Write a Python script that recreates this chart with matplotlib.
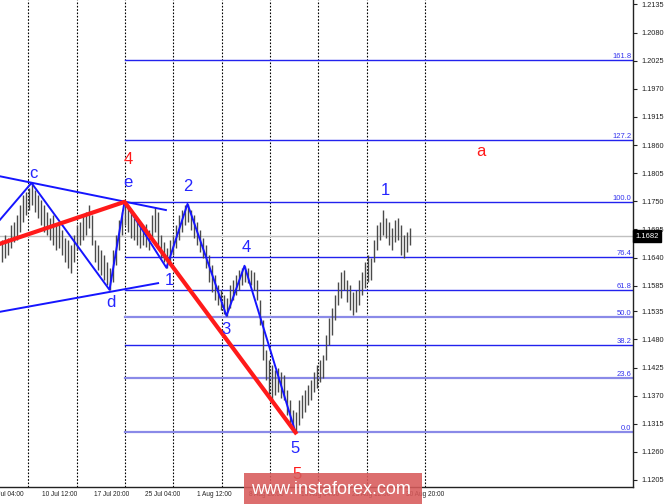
import matplotlib.pyplot as plt
import matplotlib.transforms as mtransforms
from matplotlib.patches import Rectangle

# EUR/USD bars (bar index -> high / low)
highs = [1.1674, 1.1684, 1.1678, 1.1704, 1.1710, 1.1723, 1.1743, 1.1762, 1.1768, 1.1776,
         1.1786, 1.1772, 1.1762, 1.1753, 1.1743, 1.1729, 1.1717, 1.1723, 1.1704, 1.1710,
         1.1694, 1.1678, 1.1674, 1.1665, 1.1684, 1.1704, 1.1710, 1.1723, 1.1729, 1.1743,
         1.1723, 1.1674, 1.1665, 1.1655, 1.1645, 1.1631, 1.1620, 1.1655, 1.1684, 1.1714,
         1.1729, 1.1749, 1.1737, 1.1729, 1.1717, 1.1710, 1.1704, 1.1698, 1.1706, 1.1694,
         1.1723, 1.1739, 1.1729, 1.1684, 1.1671, 1.1659, 1.1674, 1.1684, 1.1704, 1.1723,
         1.1733, 1.1743, 1.1745, 1.1733, 1.1723, 1.1710, 1.1694, 1.1678, 1.1665, 1.1645,
         1.1626, 1.1606, 1.1586, 1.1577, 1.1567, 1.1561, 1.1586, 1.1596, 1.1606, 1.1616,
         1.1620, 1.1624, 1.1620, 1.1616, 1.1612, 1.1596, 1.1557, 1.1518, 1.1459, 1.1440,
         1.1430, 1.1420, 1.1424, 1.1416, 1.1410, 1.1381, 1.1362, 1.1342, 1.1338, 1.1362,
         1.1371, 1.1381, 1.1391, 1.1401, 1.1416, 1.1430, 1.1440, 1.1450, 1.1489, 1.1522,
         1.1541, 1.1567, 1.1592, 1.1612, 1.1616, 1.1596, 1.1586, 1.1573, 1.1577, 1.1596,
         1.1612, 1.1631, 1.1645, 1.1639, 1.1674, 1.1704, 1.1710, 1.1733, 1.1717, 1.1710,
         1.1698, 1.1714, 1.1717, 1.1704, 1.1684, 1.1690, 1.1698]
lows = [1.1631, 1.1639, 1.1645, 1.1659, 1.1671, 1.1674, 1.1690, 1.1710, 1.1723, 1.1733,
        1.1743, 1.1729, 1.1717, 1.1704, 1.1690, 1.1684, 1.1674, 1.1665, 1.1655, 1.1659,
        1.1645, 1.1631, 1.1620, 1.1610, 1.1631, 1.1655, 1.1665, 1.1674, 1.1684, 1.1698,
        1.1665, 1.1631, 1.1616, 1.1606, 1.1596, 1.1586, 1.1577, 1.1592, 1.1626, 1.1655,
        1.1684, 1.1704, 1.1690, 1.1678, 1.1674, 1.1665, 1.1659, 1.1665, 1.1661, 1.1655,
        1.1674, 1.1690, 1.1665, 1.1639, 1.1631, 1.1620, 1.1631, 1.1645, 1.1659, 1.1674,
        1.1690, 1.1704, 1.1710, 1.1694, 1.1678, 1.1665, 1.1651, 1.1639, 1.1620, 1.1592,
        1.1573, 1.1557, 1.1547, 1.1538, 1.1530, 1.1526, 1.1541, 1.1557, 1.1567, 1.1577,
        1.1586, 1.1592, 1.1590, 1.1586, 1.1577, 1.1557, 1.1508, 1.1440, 1.1401, 1.1371,
        1.1362, 1.1371, 1.1377, 1.1365, 1.1362, 1.1332, 1.1313, 1.1299, 1.1298, 1.1313,
        1.1326, 1.1338, 1.1352, 1.1362, 1.1377, 1.1385, 1.1397, 1.1404, 1.1440, 1.1469,
        1.1489, 1.1518, 1.1547, 1.1561, 1.1577, 1.1553, 1.1538, 1.1528, 1.1534, 1.1547,
        1.1567, 1.1581, 1.1592, 1.1596, 1.1631, 1.1655, 1.1674, 1.1684, 1.1678, 1.1665,
        1.1655, 1.1671, 1.1674, 1.1645, 1.1639, 1.1651, 1.1665]
last_price = 1.1682

# fibo grid
fib_low, fib_high = 1.1298, 1.1748
fib_levels = [0.0, 23.6, 38.2, 50.0, 61.8, 76.4, 100.0, 127.2, 161.8]
fib_start = 41

price_ticks = [1.2135, 1.2080, 1.2025, 1.1970, 1.1915, 1.1860, 1.1805, 1.1750, 1.1695,
               1.1640, 1.1585, 1.1535, 1.1480, 1.1425, 1.1370, 1.1315, 1.1260, 1.1205]
date_labels = ['3 Jul 04:00', '10 Jul 12:00', '17 Jul 20:00', '25 Jul 04:00', '1 Aug 12:00',
               '8 Aug 20:00', '16 Aug 04:00', '23 Aug 12:00', '30 Aug 20:00']
date_pos = [-3.2, 13.5, 30.8, 47.8, 65.2, 82.5, 99.8, 116.8, 134.8]
grid_pos = [8.8, 25.2, 41.2, 57.2, 73.5, 89.5, 105.5, 121.8, 141.2]

# wave markup
tri_top_x, tri_top_y = [-0.5, 54.8], [1.1799, 1.1733]
tri_bot_x, tri_bot_y = [-0.5, 52.2], [1.1534, 1.1590]
abcde_x, abcde_y = [-0.5, 10, 36, 41], [1.1714, 1.1786, 1.1577, 1.1749]
red_x, red_y = [-0.5, 41, 98], [1.1667, 1.1749, 1.1298]
imp_x = [41, 55, 62, 75, 81, 98]
imp_y = [1.1749, 1.1620, 1.1745, 1.1526, 1.1624, 1.1298]
wave_labels = [('c', 10.5, 1.1804, 'blue'), ('e', 42.2, 1.1786, 'blue'), ('4', 42.2, 1.1831, 'red'),
               ('d', 36.5, 1.1553, 'blue'), ('1', 55.8, 1.1596, 'blue'), ('2', 62.2, 1.1780, 'blue'),
               ('3', 74.8, 1.1499, 'blue'), ('4', 81.5, 1.1659, 'blue'), ('5', 97.8, 1.1266, 'blue'),
               ('5', 98.5, 1.1215, 'red'), ('1', 127.8, 1.1772, 'blue'), ('a', 159.8, 1.1847, 'red')]

W, H = 665, 504
fig = plt.figure(figsize=(W / 100, H / 100), dpi=100)
ax = fig.add_axes([0, 17 / H, 633 / W, 487 / H])

for g in grid_pos:
    ax.axvline(g, color='black', lw=0.8, ls=(0, (1.5, 1.5)), zorder=1)

ax.axhline(last_price, color='#c0c0c0', lw=1, zorder=1)

xy_trans = mtransforms.blended_transform_factory(ax.transAxes, ax.transData)
rng = fib_high - fib_low
light = {0.0, 23.6, 50.0}
for lv in fib_levels:
    p = fib_low + rng * lv / 100
    if lv in light:
        ax.plot([fib_start, 210.5], [p, p], color='#8a8ae8', lw=1.6, zorder=2)
    else:
        ax.plot([fib_start, 210.5], [p, p], color='#2222ee', lw=1, zorder=2)
    ax.text(0.997, p, f'{lv:.1f}', transform=xy_trans,
            ha='right', va='bottom', fontsize=5.5, color='#3333ee', family='Liberation Sans')

ax.vlines(range(len(highs)), lows, highs, color='#4a4a4a', lw=1, zorder=3)

ax.plot(tri_top_x, tri_top_y, color='#1515ff', lw=1.4, zorder=4)
ax.plot(tri_bot_x, tri_bot_y, color='#1515ff', lw=1.4, zorder=4)
ax.plot(abcde_x, abcde_y, color='#1515ff', lw=1.4, zorder=4)
ax.plot(imp_x, imp_y, color='#1515ff', lw=1.4, zorder=4)
ax.plot(red_x, red_y, color='#ff1a1a', lw=3, zorder=5)

for t, x, y, c in wave_labels:
    col = '#2525ff' if c == 'blue' else '#ff1a1a'
    ax.text(x, y, t, color=col, fontsize=12, ha='center', va='center', family='Liberation Sans', zorder=6)

for s in ['top', 'left']:
    ax.spines[s].set_visible(False)
for s in ['right', 'bottom']:
    ax.spines[s].set_color('#222222')
    ax.spines[s].set_linewidth(1)

ax.yaxis.tick_right()
ax.set_yticks(price_ticks)
ax.set_yticklabels([f'{v:.4f}' for v in price_ticks])
ax.tick_params(axis='y', length=3, width=0.8, pad=3, labelsize=5.3, colors='#222222')
for lab in ax.get_yticklabels():
    lab.set_family('Liberation Sans')
ax.set_xticks([])

x_trans = mtransforms.blended_transform_factory(ax.transData, ax.transAxes)
for lbl, pos in zip(date_labels, date_pos):
    ax.text(pos, -0.008, lbl, transform=x_trans, ha='left', va='top', fontsize=4.7,
            color='#222222', family='Liberation Sans', clip_on=False)

ax.set_xlim(-0.5, 210.5)
ax.set_ylim(1.11913, 1.21438)

ax.text(1.004, last_price, f'{last_price:.4f}', transform=xy_trans,
        ha='left', va='center', fontsize=5.5, color='white', family='Liberation Sans',
        bbox=dict(boxstyle='square,pad=0.3', fc='black', ec='black'), clip_on=False)

fig.patches.append(Rectangle((244 / W, 0), 178 / W, 31 / H, transform=fig.transFigure,
                             fc='#d85a5a', ec='none', alpha=0.88, zorder=10))
fig.text(331 / W, 14 / H, 'www.instaforex.com', color='white', fontsize=13, ha='center', va='center',
         family='Liberation Sans', zorder=11)

fig.savefig('out.png', dpi=100)
